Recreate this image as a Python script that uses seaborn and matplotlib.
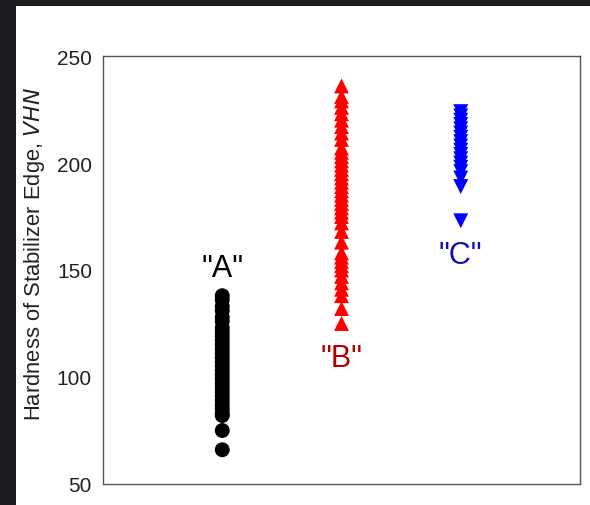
import numpy as np
import pandas as pd
import matplotlib
matplotlib.use("Agg")
import matplotlib.pyplot as plt
import seaborn as sns
from matplotlib.patches import Rectangle

# Hardness readings (VHN) for each stabilizer group
groups = ["A", "B", "C"]
hardness_a = [138, 136, 133, 131, 128, 126, 123, 121, 119, 117, 115, 113, 111,
              109, 107, 105, 103, 101, 99, 97, 95, 93, 91, 89, 87, 85, 83, 82,
              75, 66]
hardness_b = [236, 231, 229, 226, 223, 220, 217, 214, 211, 207, 205, 203, 201,
              199, 197, 195, 193, 191, 189, 187, 185, 183, 181, 179, 177, 175,
              172, 168, 163, 158, 156, 154, 152, 150, 147, 144, 141, 138, 132,
              125]
hardness_c = [224, 222, 220, 218, 216, 214, 212, 210, 208, 206, 204, 202, 200,
              198, 196, 193, 189, 173]
group_labels = ['"A"', '"B"', '"C"']
label_values = [151, 109, 157]

df = pd.DataFrame({
    "group": ["A"] * len(hardness_a) + ["B"] * len(hardness_b) + ["C"] * len(hardness_c),
    "hardness": hardness_a + hardness_b + hardness_c,
})
df["pos"] = df["group"].map({g: i + 1 for i, g in enumerate(groups)})

sns.set_style("white")
plt.rcParams["font.family"] = ["Liberation Sans", "DejaVu Sans"]

fig = plt.figure(figsize=(5.9, 5.06), dpi=100)
fig.patch.set_facecolor("white")
# dark frame strips along the top and left edges
dark = "#1b1d21"
fig.patches.append(Rectangle((0, 0), 16 / 590, 1, transform=fig.transFigure,
                             facecolor=dark, edgecolor="none"))
fig.patches.append(Rectangle((0, (506 - 7) / 506), 1, 7 / 506,
                             transform=fig.transFigure, facecolor=dark,
                             edgecolor="none"))

ax = fig.add_axes([103 / 590, 21 / 506, 477 / 590, 428 / 506])
ax.set_facecolor("white")

marker_colors = {"A": "black", "B": "#ff0000", "C": "#0000ff"}
marker_shapes = {"A": "o", "B": "^", "C": "v"}
sns.scatterplot(data=df, x="pos", y="hardness", hue="group", style="group",
                palette=marker_colors, markers=marker_shapes, s=115,
                edgecolor="none", linewidth=0, legend=False, ax=ax, zorder=3)

label_colors = ["black", "#b00000", "#1010b0"]
for i, (txt, val, col) in enumerate(zip(group_labels, label_values, label_colors)):
    ax.text(i + 1, val, txt, ha="center", va="center", fontsize=22, color=col)

ax.set_xlim(0.0, 4.0)
ax.set_ylim(50, 250)
ax.set_yticks([50, 100, 150, 200, 250])
ax.set_xticks([])
ax.set_xlabel("")
ax.set_ylabel("Hardness of Stabilizer Edge, $\\mathit{VHN}$", fontsize=15.8,
              color="#222222")
ax.yaxis.set_label_coords(-0.117, 0.54)
ax.tick_params(axis="y", length=0, pad=8, labelsize=15, labelcolor="#222222")
for sp in ax.spines.values():
    sp.set_visible(True)
    sp.set_color("#555555")
    sp.set_linewidth(1.0)

fig.savefig("out.png", dpi=100, facecolor=fig.get_facecolor())
